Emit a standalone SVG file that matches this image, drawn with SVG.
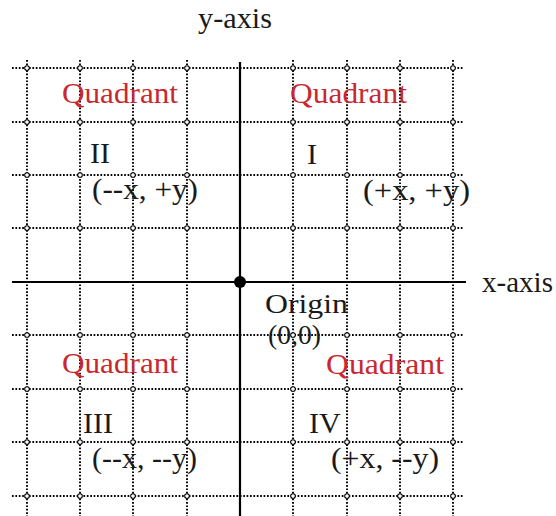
<svg xmlns="http://www.w3.org/2000/svg" xmlns:xlink="http://www.w3.org/1999/xlink" width="556" height="516" viewBox="0 0 556 516">
<defs>
<style>
.dot{stroke:#000;stroke-width:1.9;stroke-dasharray:1.7 1.7;fill:none}
.axis{stroke:#000;stroke-width:2.2;fill:none}
.t{font-family:"Liberation Serif","Times New Roman",serif;font-size:30px;fill:#1a1a1a}
.o{font-family:"Liberation Serif","Times New Roman",serif;font-size:28px;fill:#1a1a1a}
.q{font-family:"Liberation Serif","Times New Roman",serif;font-size:30px;fill:#c8282e}
</style>
<circle id="k" r="2.3" fill="#fff" stroke="#000" stroke-width="1.1"/>
</defs>
<rect width="556" height="516" fill="#fff"/>
<g id="connectors">
<g id="grid-v">
<line class="dot" x1="27" y1="60" x2="27" y2="516"/>
<line class="dot" x1="80" y1="60" x2="80" y2="516"/>
<line class="dot" x1="133" y1="60" x2="133" y2="516"/>
<line class="dot" x1="187" y1="60" x2="187" y2="516"/>
<line class="dot" x1="293" y1="60" x2="293" y2="516"/>
<line class="dot" x1="347" y1="60" x2="347" y2="516"/>
<line class="dot" x1="400" y1="60" x2="400" y2="516"/>
<line class="dot" x1="453" y1="60" x2="453" y2="516"/>
</g>
<g id="grid-h">
<line class="dot" x1="12" y1="68" x2="463" y2="68"/>
<line class="dot" x1="12" y1="122" x2="463" y2="122"/>
<line class="dot" x1="12" y1="175" x2="463" y2="175"/>
<line class="dot" x1="12" y1="228" x2="463" y2="228"/>
<line class="dot" x1="12" y1="335" x2="463" y2="335"/>
<line class="dot" x1="12" y1="389" x2="463" y2="389"/>
<line class="dot" x1="12" y1="442" x2="463" y2="442"/>
<line class="dot" x1="12" y1="496" x2="463" y2="496"/>
</g>
<g id="axes">
<line class="axis" x1="12" y1="282" x2="466" y2="282"/>
<line class="axis" x1="240" y1="62" x2="240" y2="516"/>
</g>
<g id="ticks">
<use xlink:href="#k" x="27" y="68"/><use xlink:href="#k" x="80" y="68"/><use xlink:href="#k" x="133" y="68"/><use xlink:href="#k" x="187" y="68"/><use xlink:href="#k" x="293" y="68"/><use xlink:href="#k" x="347" y="68"/><use xlink:href="#k" x="400" y="68"/><use xlink:href="#k" x="453" y="68"/>
<use xlink:href="#k" x="27" y="122"/><use xlink:href="#k" x="80" y="122"/><use xlink:href="#k" x="133" y="122"/><use xlink:href="#k" x="187" y="122"/><use xlink:href="#k" x="293" y="122"/><use xlink:href="#k" x="347" y="122"/><use xlink:href="#k" x="400" y="122"/><use xlink:href="#k" x="453" y="122"/>
<use xlink:href="#k" x="27" y="175"/><use xlink:href="#k" x="80" y="175"/><use xlink:href="#k" x="133" y="175"/><use xlink:href="#k" x="187" y="175"/><use xlink:href="#k" x="293" y="175"/><use xlink:href="#k" x="347" y="175"/><use xlink:href="#k" x="400" y="175"/><use xlink:href="#k" x="453" y="175"/>
<use xlink:href="#k" x="27" y="228"/><use xlink:href="#k" x="80" y="228"/><use xlink:href="#k" x="133" y="228"/><use xlink:href="#k" x="187" y="228"/><use xlink:href="#k" x="293" y="228"/><use xlink:href="#k" x="347" y="228"/><use xlink:href="#k" x="400" y="228"/><use xlink:href="#k" x="453" y="228"/>
<use xlink:href="#k" x="27" y="335"/><use xlink:href="#k" x="80" y="335"/><use xlink:href="#k" x="133" y="335"/><use xlink:href="#k" x="187" y="335"/><use xlink:href="#k" x="293" y="335"/><use xlink:href="#k" x="347" y="335"/><use xlink:href="#k" x="400" y="335"/><use xlink:href="#k" x="453" y="335"/>
<use xlink:href="#k" x="27" y="389"/><use xlink:href="#k" x="80" y="389"/><use xlink:href="#k" x="133" y="389"/><use xlink:href="#k" x="187" y="389"/><use xlink:href="#k" x="293" y="389"/><use xlink:href="#k" x="347" y="389"/><use xlink:href="#k" x="400" y="389"/><use xlink:href="#k" x="453" y="389"/>
<use xlink:href="#k" x="27" y="442"/><use xlink:href="#k" x="80" y="442"/><use xlink:href="#k" x="133" y="442"/><use xlink:href="#k" x="187" y="442"/><use xlink:href="#k" x="293" y="442"/><use xlink:href="#k" x="347" y="442"/><use xlink:href="#k" x="400" y="442"/><use xlink:href="#k" x="453" y="442"/>
<use xlink:href="#k" x="27" y="496"/><use xlink:href="#k" x="80" y="496"/><use xlink:href="#k" x="133" y="496"/><use xlink:href="#k" x="187" y="496"/><use xlink:href="#k" x="293" y="496"/><use xlink:href="#k" x="347" y="496"/><use xlink:href="#k" x="400" y="496"/><use xlink:href="#k" x="453" y="496"/>
</g>
</g>
<g id="origin">
<circle cx="240" cy="282" r="6" fill="#000"/>
<text class="o" x="265" y="313" textLength="83" lengthAdjust="spacingAndGlyphs">Origin</text>
<text class="o" x="268" y="344" textLength="53" lengthAdjust="spacingAndGlyphs">(0,0)</text>
</g>
<g id="y-axis-label"><text class="t" x="198" y="28" textLength="74" lengthAdjust="spacingAndGlyphs">y-axis</text></g>
<g id="x-axis-label"><text class="t" x="482" y="292" textLength="71" lengthAdjust="spacingAndGlyphs">x-axis</text></g>
<g id="quadrant-1">
<text class="q" x="290" y="103" textLength="117" lengthAdjust="spacingAndGlyphs">Quadrant</text>
<text class="t" x="307" y="164">I</text>
<text class="t" x="363" y="200" textLength="107" lengthAdjust="spacingAndGlyphs">(+x, +y)</text>
</g>
<g id="quadrant-2">
<text class="q" x="62" y="103" textLength="116" lengthAdjust="spacingAndGlyphs">Quadrant</text>
<text class="t" x="90" y="163">II</text>
<text class="t" x="92" y="199" textLength="106" lengthAdjust="spacingAndGlyphs">(--x, +y)</text>
</g>
<g id="quadrant-3">
<text class="q" x="62" y="373" textLength="116" lengthAdjust="spacingAndGlyphs">Quadrant</text>
<text class="t" x="83" y="433">III</text>
<text class="t" x="92" y="468" textLength="105" lengthAdjust="spacingAndGlyphs">(--x, --y)</text>
</g>
<g id="quadrant-4">
<text class="q" x="326" y="374" textLength="118" lengthAdjust="spacingAndGlyphs">Quadrant</text>
<text class="t" x="309" y="433">IV</text>
<text class="t" x="331" y="468" textLength="108" lengthAdjust="spacingAndGlyphs">(+x, --y)</text>
</g>
</svg>
